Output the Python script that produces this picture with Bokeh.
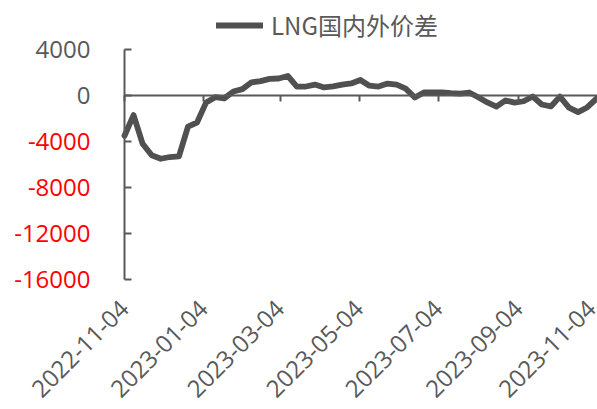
from math import pi

import pandas as pd
from bokeh.embed import file_html
from bokeh.models import (ColumnDataSource, DatetimeAxis, DatetimeTickFormatter,
                          FixedTicker, Label, Legend, LegendItem, LinearAxis,
                          Range1d)
from bokeh.plotting import figure
from bokeh.resources import INLINE

# Weekly LNG domestic vs. overseas price spread (yuan/ton)
dates = pd.date_range("2022-11-04", periods=53, freq="7D")
spread = [
    -3500, -1700, -4200, -5200, -5500, -5350, -5300, -2700, -2350, -600,
    -150, -250, 350, 550, 1150, 1250, 1450, 1480, 1700, 780,
    780, 950, 700, 800, 950, 1050, 1350, 850, 780, 1040,
    950, 600, -170, 260, 280, 260, 200, 170, 260, -150,
    -600, -960, -430, -620, -500, -90, -780, -950, -100, -1050,
    -1450, -1040, -300,
]
series_name = "LNG国内外价差"

x_tick_labels = ["2022-11-04", "2023-01-04", "2023-03-04", "2023-05-04",
                 "2023-07-04", "2023-09-04", "2023-11-04"]
y_ticks = [4000, 0, -4000, -8000, -12000, -16000]
y_tick_labels = ["4000", "0", "-4000", "-8000", "-12000", "-16000"]

GRAY = "#595959"
RED = "#ff0000"
FONT = "Open Sans"
CJK_FONT = "Noto Sans CJK SC"
SIZE = "24px"

# Canvas geometry: the frame fills the canvas (plus a strip below the value
# axis), leaving room on the left for the value labels and on top for the legend.
W, H = 597, 409
AXIS_X, AXIS_TOP, AXIS_BOTTOM = 124, 49, 279
FRAME_BOTTOM = 293

x_start = pd.Timestamp(x_tick_labels[0])
x_end = pd.Timestamp(x_tick_labels[-1])
x_lo = x_start - (x_end - x_start) * AXIS_X / (W - AXIS_X)
y_min, y_max = y_ticks[-1], y_ticks[0]
px_val = (y_max - y_min) / (AXIS_BOTTOM - AXIS_TOP)
y_hi = y_max + px_val * AXIS_TOP
y_lo = y_min - px_val * (FRAME_BOTTOM - AXIS_BOTTOM)

x_tick_ms = [pd.Timestamp(d).value // 10**6 for d in x_tick_labels]
x_start_ms = x_tick_ms[0]
x_end_ms = x_tick_ms[-1]

source = ColumnDataSource(data=dict(date=dates, spread=spread))

p = figure(width=W, height=H, output_backend="svg", toolbar_location=None,
           x_axis_type="datetime", x_axis_location=None, y_axis_location=None,
           x_range=Range1d(x_lo, x_end), y_range=Range1d(y_lo, y_hi),
           min_border_left=0, min_border_right=0, min_border_top=0,
           min_border_bottom=H - FRAME_BOTTOM)
p.outline_line_color = None
p.grid.visible = False
p.background_fill_color = "white"
p.border_fill_color = "white"

# Value axis line with inward ticks, starting at the first date
yaxis = LinearAxis(ticker=FixedTicker(ticks=y_ticks), fixed_location=float(x_start_ms),
                   bounds=(y_min, y_max))
yaxis.axis_line_color = GRAY
yaxis.axis_line_width = 2
yaxis.major_tick_line_color = GRAY
yaxis.major_tick_line_width = 2
yaxis.major_tick_in = 7
yaxis.major_tick_out = 0
yaxis.minor_tick_line_color = None
yaxis.major_label_standoff = 0
yaxis.major_label_text_font_size = "1px"
yaxis.major_label_overrides = {t: "" for t in y_ticks}
p.add_layout(yaxis, "left")

# Value labels: gray for non-negative, red for negative
for v, txt in zip(y_ticks, y_tick_labels):
    p.add_layout(Label(x=x_start, y=v, x_offset=-34, text=txt,
                       text_align="right", text_baseline="middle",
                       text_color=GRAY if v >= 0 else RED,
                       text_font=FONT, text_font_size=SIZE))

# Horizontal axis crossing at zero, ticks only
x_zero = DatetimeAxis(ticker=FixedTicker(ticks=x_tick_ms), fixed_location=0,
                      bounds=(x_start_ms, x_end_ms))
x_zero.axis_line_color = GRAY
x_zero.axis_line_width = 2
x_zero.major_tick_line_color = GRAY
x_zero.major_tick_line_width = 2
x_zero.major_tick_in = 0
x_zero.major_tick_out = 6
x_zero.minor_tick_line_color = None
x_zero.major_label_overrides = {t: "" for t in x_tick_ms}
x_zero.major_label_text_font_size = "1px"
p.add_layout(x_zero, "below")

# Date labels at the bottom of the plot
fmt = "%Y-%m-%d"
x_labels = DatetimeAxis(ticker=FixedTicker(ticks=x_tick_ms),
                        formatter=DatetimeTickFormatter(
                            milliseconds=fmt, seconds=fmt, minsec=fmt, minutes=fmt,
                            hourmin=fmt, hours=fmt, days=fmt, months=fmt, years=fmt))
x_labels.axis_line_color = None
x_labels.major_tick_line_color = None
x_labels.minor_tick_line_color = None
x_labels.major_label_orientation = pi / 4
x_labels.major_label_standoff = 5
x_labels.major_label_text_color = GRAY
x_labels.major_label_text_font = FONT
x_labels.major_label_text_font_size = SIZE
p.add_layout(x_labels, "below")

r = p.line("date", "spread", source=source, line_color="#505050", line_width=5.8,
           line_join="round", line_cap="round")

legend = Legend(items=[LegendItem(label=series_name, renderers=[r])],
                location=(216, FRAME_BOTTOM - 42), orientation="horizontal",
                border_line_color=None, background_fill_alpha=0,
                padding=0, margin=0, glyph_width=47, glyph_height=28,
                label_standoff=8, label_text_font=CJK_FONT,
                label_text_font_size=SIZE, label_text_color=GRAY)
p.add_layout(legend, "center")

open("out.html", "w").write(file_html(p, INLINE))
